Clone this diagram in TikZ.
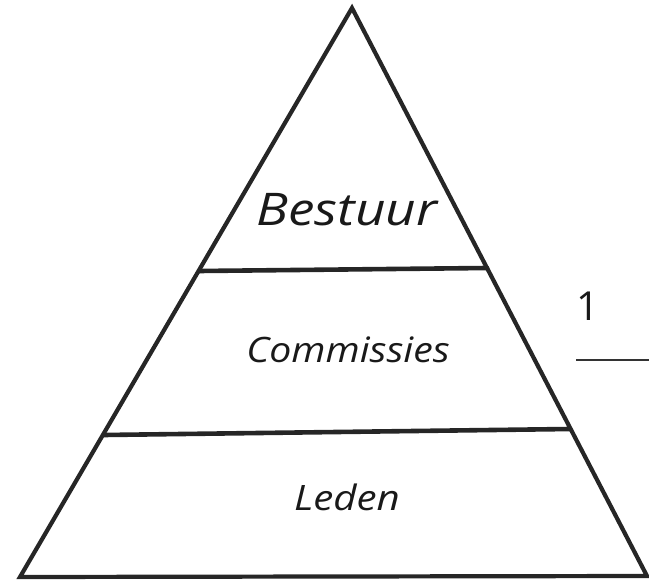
\documentclass[tikz,border=0pt]{standalone}
\usepackage{fontspec}
\setmainfont{Open Sans}
\begin{document}
\begin{tikzpicture}[x=1pt,y=-1pt,
  edge/.style={draw=black!85,line width=4.2pt,line join=miter,line cap=round},
  tier/.style={draw=black!85,line width=4.6pt,line cap=round},
  lbl/.style={font=\fontsize{35}{40}\selectfont\itshape,text=black!90,inner sep=0pt}]
\useasboundingbox (0,0) rectangle (649,581);
\coordinate (apex) at (352,8);
\coordinate (bl) at (20,577);
\coordinate (br) at (647,576);
\coordinate (l1a) at (199,271);
\coordinate (l1b) at (487,268);
\coordinate (l2a) at (104,435);
\coordinate (l2b) at (570,429);
\coordinate (sa) at (576,360);
\coordinate (sb) at (649,360);
\draw[edge] (bl) -- (apex) -- (br) -- cycle;
\draw[tier] (l1a) -- (l1b);
\draw[tier] (l2a) -- (l2b);
\draw[draw=black!80,line width=2.4pt] (sa) -- (sb);
\node[lbl,font=\fontsize{45}{50}\selectfont\itshape] (bestuur) at (347,210) {\scalebox{1.18}[1]{Bestuur}};
\node[lbl] (comm) at (348,350) {\scalebox{1.12}[1]{Commissies}};
\node[lbl] (leden) at (347,497) {\scalebox{1.15}[1]{Leden}};
\node[lbl,font=\fontsize{40}{44}\selectfont] (one) at (588,306) {1};
\end{tikzpicture}
\end{document}
